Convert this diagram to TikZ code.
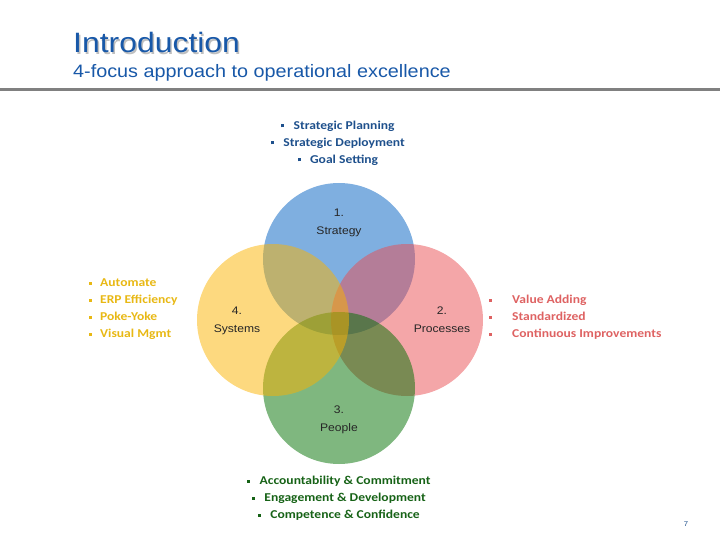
\documentclass[tikz,border=0pt]{standalone}
\usepackage{fontspec}
\setmainfont[FakeStretch=1.1]{Liberation Sans}
\newfontfamily\headfont[FakeStretch=1.14]{Liberation Sans}
\newfontfamily\calib[FakeStretch=1.13]{Carlito}
\usetikzlibrary{positioning}

\definecolor{titleblue}{RGB}{24,88,168}
\definecolor{rulegray}{RGB}{128,128,128}
\definecolor{cblue}{RGB}{0,95,193}
\definecolor{cpink}{RGB}{233,77,81}
\definecolor{cgreen}{RGB}{0,112,0}
\definecolor{cyellow}{RGB}{251,179,0}
\definecolor{txblue}{RGB}{30,80,140}
\definecolor{txgold}{RGB}{232,184,20}
\definecolor{txred}{RGB}{222,98,98}
\definecolor{txgreen}{RGB}{22,98,22}

\newcommand{\sqbul}{\rule[.3ex]{.25em}{.25em}}

\begin{document}
\begin{tikzpicture}[
  x=1pt,y=-1pt,
  ring/.style={circle,minimum size=152pt,inner sep=0pt,fill opacity=.5},
  tag/.style={align=center,text=black!85,font=\fontsize{11}{18}\selectfont,inner sep=0pt},
  items/.style={font=\calib\bfseries\fontsize{12}{17}\selectfont,inner sep=0pt}
]
  \useasboundingbox (0,0) rectangle (720,540);

  \node[anchor=base west,inner sep=0pt,text=black!25,font=\headfont\fontsize{28}{30}\selectfont] (titleshade) at (74.5,54.5) {Introduction};
  \node[anchor=base west,inner sep=0pt,text=titleblue,font=\headfont\fontsize{28}{30}\selectfont] (title) at (73,53) {Introduction};
  \node[anchor=base west,inner sep=0pt,text=titleblue,font=\fontsize{18}{20}\selectfont] (sub) at (73,78) {4-focus approach to operational excellence};
  \draw[rulegray,line width=3pt] (0,89.5) -- (720,89.5);

  \node[ring,fill=cblue] (strat) at (339,259) {};
  \node[ring,fill=cpink] (proc) at (407,320) {};
  \node[ring,fill=cgreen] (people) at (339,388) {};
  \node[ring,fill=cyellow] (sys) at (273,320) {};

  \node[tag] (l1) at (339,223) {1.\\Strategy};
  \node[tag] (l2) at (442,320) {2.\\Processes};
  \node[tag] (l3) at (339,420) {3.\\People};
  \node[tag] (l4) at (237,321) {4.\\Systems};

  \node[items,text=txblue,align=center] (s1) at (338,143)
    {\sqbul\ \ \ Strategic Planning\\\sqbul\ \ \ Strategic Deployment\\\sqbul\ \ \ Goal Setting};
  \node[items,text=txgold,align=left,anchor=west] (s4) at (89,309)
    {\makebox[11pt][l]{\sqbul}Automate\\\makebox[11pt][l]{\sqbul}ERP Efficiency\\
     \makebox[11pt][l]{\sqbul}Poke-Yoke\\\makebox[11pt][l]{\sqbul}Visual Mgmt};
  \node[items,text=txred,align=left,anchor=west] (s2) at (489,317)
    {\makebox[23pt][l]{\sqbul}Value Adding\\\makebox[23pt][l]{\sqbul}Standardized\\
     \makebox[23pt][l]{\sqbul}Continuous Improvements};
  \node[items,text=txgreen,align=center] (s3) at (339,498)
    {\sqbul\ \ \ Accountability \& Commitment\\\sqbul\ \ \ Engagement \& Development\\\sqbul\ \ \ Competence \& Confidence};

  \node[inner sep=0pt,text=txblue,font=\fontsize{7}{8}\selectfont] (page) at (686,524) {7};
\end{tikzpicture}
\end{document}
